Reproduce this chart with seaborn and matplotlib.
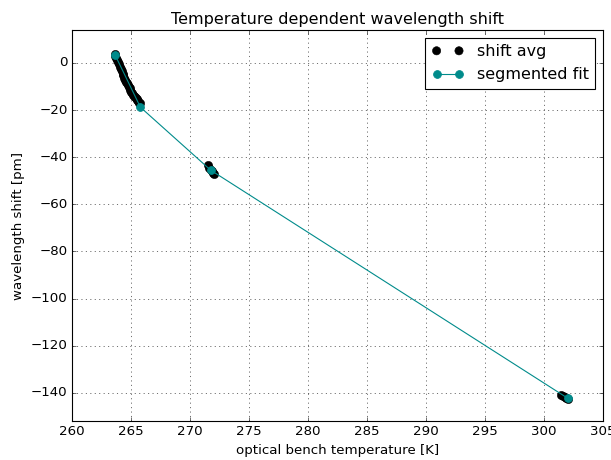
import matplotlib
matplotlib.use("Agg")
import matplotlib.pyplot as plt
import seaborn as sns
import numpy as np

# shift avg (measured points)
temp_avg = [263.62, 263.68, 263.75, 263.82, 263.90, 263.97, 264.05, 264.12, 264.20, 264.28,
            264.35, 264.42, 264.50, 264.58, 264.65, 264.72, 264.80, 264.88, 264.95, 265.02,
            265.10, 265.18, 265.25, 265.33, 265.40, 265.48, 265.55, 265.62, 265.70, 265.76,
            271.55, 271.65, 271.75, 271.85, 271.95, 272.05,
            301.45, 301.60, 301.75, 301.90, 302.05]
shift_avg = [3.8, 3.0, 2.2, 1.2, 0.5, -0.6, -1.5, -2.6, -3.4, -4.5,
             -5.3, -6.3, -7.2, -8.0, -8.6, -9.4, -10.1, -10.8, -11.4, -12.2,
             -12.8, -13.4, -14.0, -14.5, -15.0, -15.4, -15.9, -16.3, -16.8, -17.2,
             -43.5, -44.5, -45.3, -46.0, -46.5, -47.0,
             -140.8, -141.3, -141.7, -142.1, -142.5]

# segmented fit
temp_fit = [263.65, 265.80, 271.75, 302.00]
shift_fit = [3.4, -18.8, -45.5, -142.3]

plt.style.use("classic")
fig = plt.figure(figsize=(611/80, 460/80), dpi=80)
ax = fig.add_axes([72/611, 1-421/460, (603-72)/611, (421-30)/460])

sns.scatterplot(x=temp_avg, y=shift_avg, ax=ax, color="black", s=55,
                edgecolor="black", linewidth=0.5, label="shift avg", zorder=2)
sns.lineplot(x=temp_fit, y=shift_fit, ax=ax, color="#008b8b", marker="o",
             markersize=7, markeredgecolor="#008b8b", linewidth=1,
             sort=False, label="segmented fit", zorder=3)

ax.set_xlim(260, 305)
ax.set_ylim(-152, 14)
ax.set_xticks(np.arange(260, 306, 5))
ax.set_yticks(np.arange(-140, 1, 20))
ax.grid(True)
ax.set_xlabel("optical bench temperature [K]")
ax.set_ylabel("wavelength shift [pm]")
ax.set_title("Temperature dependent wavelength shift")
ax.legend(loc="upper right", numpoints=2, scatterpoints=2, scatteryoffsets=[0.5])

fig.savefig("out.png", dpi=80)
